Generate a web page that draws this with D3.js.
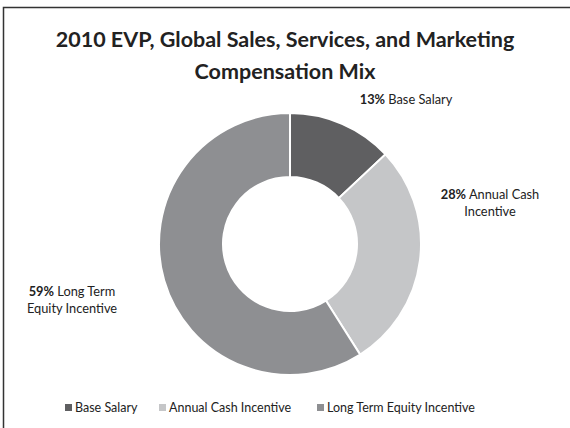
<!DOCTYPE html>
<html><head><meta charset="utf-8">
<script src="https://cdn.jsdelivr.net/npm/d3@7"></script>
<style>
html,body{margin:0;padding:0;background:#fff;}
svg{display:block;font-family:Lato,"Open Sans",sans-serif;}
</style></head>
<body>
<svg id="chart" width="570" height="428"></svg>
<script>
const titleLines = ["2010 EVP, Global Sales, Services, and Marketing", "Compensation Mix"];
const categories = ["Base Salary", "Annual Cash Incentive", "Long Term Equity Incentive"];
const values = [13, 28, 59];
const labelLines = [["Base Salary"], ["Annual Cash", "Incentive"], ["Long Term", "Equity Incentive"]];
const colors = ["#5f5f61", "#c5c6c8", "#8e8f92"];

const svg = d3.select("#chart");
// frame
svg.append("path").attr("d", "M3.5,428 L3.5,7.5 L570,7.5").attr("fill", "none").attr("stroke", "#333").attr("stroke-width", 1.5);

// title
const title = svg.append("text").attr("text-anchor", "middle").attr("font-weight", "bold").attr("font-size", 21.5).attr("fill", "#222");
titleLines.forEach((t, i) => title.append("tspan").attr("x", 285).attr("y", 47 + i * 32).text(t));

const cx = 290, cy = 244, R = 131, r = 67;
const pie = d3.pie().sort(null).value(d => d)(values);
const arc = d3.arc().innerRadius(r).outerRadius(R);
const g = svg.append("g").attr("transform", `translate(${cx},${cy})`);
g.selectAll("path").data(pie).join("path")
  .attr("d", arc).attr("fill", (d, i) => colors[i])
  .attr("stroke", "#fff").attr("stroke-width", 2);

// labels
const labelPos = [[406, 104], [490, 199], [72, 296]];
labelPos.forEach(([x, y], i) => {
  const t = svg.append("text").attr("text-anchor", "middle").attr("font-size", 12.8).attr("fill", "#222");
  labelLines[i].forEach((line, j) => {
    const ts = t.append("tspan").attr("x", x).attr("y", y + j * 17);
    if (j === 0) {
      ts.append("tspan").attr("font-weight", "bold").text(values[i] + "%");
      ts.append("tspan").text(" " + line);
    } else ts.text(line);
  });
});

// legend
const legX = [65, 159, 317];
const leg = svg.append("g");
categories.forEach((c, i) => {
  leg.append("rect").attr("x", legX[i]).attr("y", 404).attr("width", 7).attr("height", 7).attr("fill", colors[i]);
  leg.append("text").attr("x", legX[i] + 10).attr("y", 412).attr("font-size", 12.5).attr("fill", "#222").text(c);
});
</script>
</body></html>
